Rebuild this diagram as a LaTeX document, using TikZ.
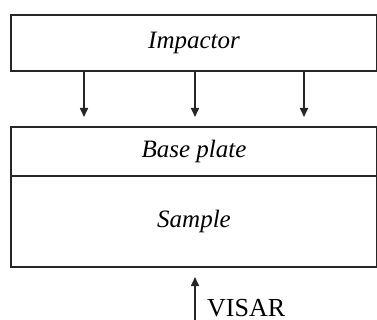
\documentclass[tikz,border=0pt]{standalone}
\usepackage{fontspec}
\setmainfont{Liberation Serif}
\usetikzlibrary{arrows.meta}
\begin{document}
\begin{tikzpicture}[x=1pt,y=-1pt,
  box/.style={draw=black!85,line width=2pt,rectangle,minimum width=366pt,inner sep=0pt,
    font=\fontsize{25}{30}\selectfont\itshape},
  arr/.style={draw=black!85,line width=1.6pt,-{Triangle[length=9pt,width=8pt]}}]
\useasboundingbox (0,0) rectangle (377,320);
\node[box,minimum height=56pt] (imp) at (194,43) {Impactor};
\node[box,minimum height=49pt] (base) at (194,151.5) {Base plate};
\node[box,minimum height=91pt] (samp) at (194,221.5) {Sample};
\foreach \x/\n in {84/a,195/b,304/c}{
  \coordinate (\n) at (\x,0);
  \draw[arr,shorten >=9pt] (imp.south -| \n) -- (base.north -| \n);
}
\coordinate (vs) at (195,321);
\draw[arr,shorten >=9pt] (vs) -- (samp.south -| vs);
\node[anchor=base west,inner sep=0pt,font=\fontsize{26}{30}\selectfont] (visar) at (207,316) {VISAR};
\end{tikzpicture}
\end{document}
